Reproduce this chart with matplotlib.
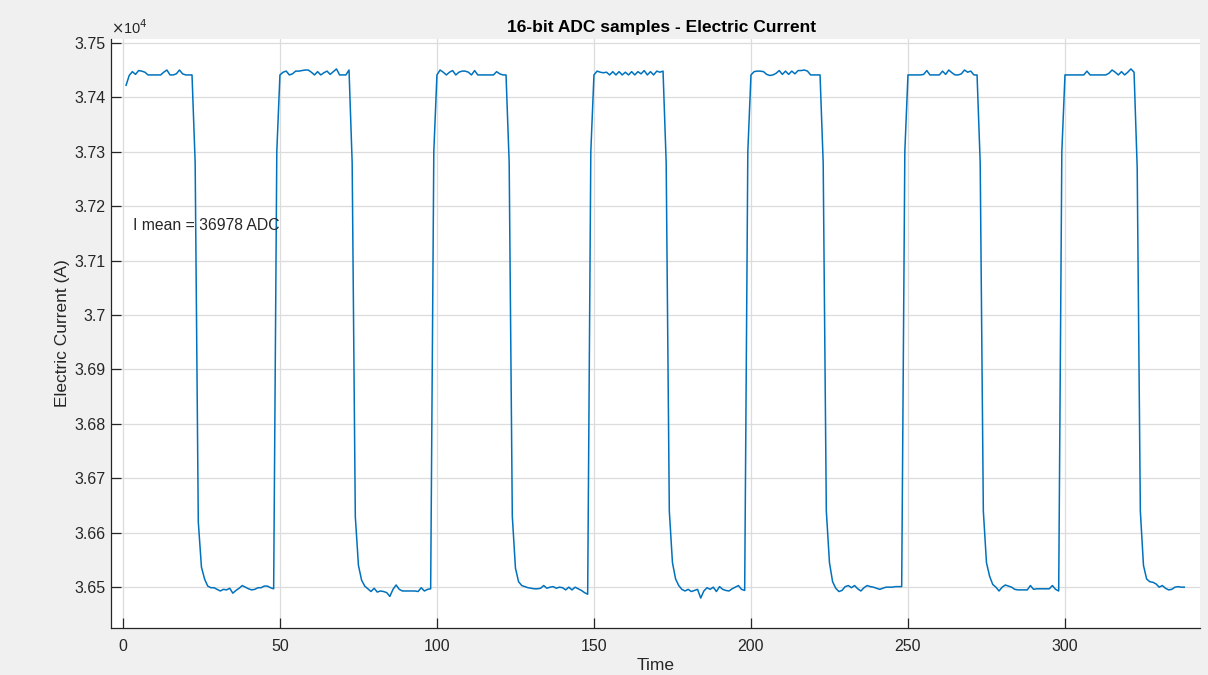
import matplotlib
matplotlib.use('Agg')
import matplotlib.pyplot as plt
import numpy as np

plt.rcParams['font.family'] = ['Liberation Sans', 'DejaVu Sans']

# 16-bit ADC samples, one row per edge / plateau
adc_samples = [
    # high 1..22
    37422, 37440, 37447, 37442, 37449, 37448, 37446, 37441, 37441, 37441, 37441,
    37441, 37446, 37450, 37441, 37441, 37443, 37450, 37443, 37441, 37441, 37441,
    # fall 23..26, low 27..48, rise 49
    37280, 36620, 36537, 36515,
    36502, 36499, 36499, 36496, 36493, 36496, 36495, 36498, 36489, 36494, 36498,
    36503, 36500, 36497, 36495, 36496, 36499, 36499, 36502, 36502, 36499, 36497,
    37300,
    # high 50..72
    37441, 37446, 37448, 37441, 37443, 37448, 37448, 37449, 37450, 37450, 37446,
    37441, 37447, 37441, 37445, 37448, 37442, 37447, 37452, 37441, 37441, 37441, 37450,
    # fall 73..76, low 77..98, rise 99
    37280, 36630, 36540, 36513,
    36502, 36497, 36492, 36498, 36491, 36493, 36492, 36490, 36483, 36496, 36504,
    36496, 36493, 36493, 36493, 36493, 36493, 36492, 36499, 36493, 36496, 36497,
    37300,
    # high 100..122
    37441, 37450, 37446, 37441, 37446, 37449, 37441, 37446, 37448, 37448, 37446,
    37441, 37449, 37441, 37441, 37441, 37441, 37441, 37441, 37447, 37443, 37441, 37441,
    # fall 123..126, low 127..148, rise 149
    37280, 36630, 36535, 36510,
    36503, 36501, 36499, 36498, 36497, 36497, 36498, 36503, 36498, 36500, 36501,
    36498, 36500, 36499, 36495, 36500, 36495, 36500, 36497, 36494, 36490, 36487,
    37300,
    # high 150..172
    37441, 37448, 37446, 37445, 37446, 37441, 37447, 37441, 37447, 37441, 37446,
    37441, 37447, 37441, 37447, 37443, 37449, 37441, 37447, 37441, 37448, 37446, 37448,
    # fall 173..176, low 177..198, rise 199
    37280, 36640, 36545, 36515,
    36503, 36496, 36493, 36496, 36492, 36494, 36496, 36480, 36493, 36499, 36496,
    36500, 36492, 36501, 36496, 36494, 36493, 36497, 36500, 36503, 36496, 36494,
    37300,
    # high 200..222
    37441, 37447, 37448, 37448, 37447, 37442, 37440, 37441, 37444, 37449, 37442,
    37448, 37442, 37448, 37443, 37449, 37449, 37450, 37448, 37441, 37441, 37441, 37441,
    # fall 223..226, low 227..248, rise 249
    37280, 36640, 36545, 36510,
    36498, 36492, 36494, 36501, 36503, 36499, 36503, 36497, 36493, 36499, 36503,
    36501, 36500, 36498, 36496, 36498, 36500, 36500, 36500, 36501, 36501, 36501,
    37300,
    # high 250..272
    37441, 37441, 37441, 37441, 37441, 37442, 37449, 37441, 37441, 37441, 37441,
    37448, 37442, 37450, 37445, 37441, 37441, 37443, 37450, 37446, 37448, 37441, 37441,
    # fall 273..276, low 277..298, rise 299
    37280, 36640, 36545, 36520,
    36505, 36500, 36493, 36500, 36504, 36502, 36500, 36496, 36495, 36495, 36495,
    36495, 36503, 36496, 36497, 36497, 36497, 36497, 36497, 36503, 36496, 36493,
    37300,
    # high 300..322
    37441, 37441, 37441, 37441, 37441, 37441, 37441, 37448, 37441, 37441, 37441,
    37441, 37441, 37441, 37444, 37450, 37446, 37441, 37447, 37441, 37446, 37452, 37446,
    # fall 323..326, low 327..338
    37270, 36640, 36540, 36515,
    36510, 36509, 36506, 36500, 36503, 36498, 36495, 36496, 36500, 36501, 36500, 36500,
]
sample_index = np.arange(1, len(adc_samples) + 1)

x_ticks = [0, 50, 100, 150, 200, 250, 300]
y_ticks = [36500, 36600, 36700, 36800, 36900, 37000, 37100, 37200, 37300, 37400, 37500]
mean_label = 'I mean = 36978 ADC'

fig = plt.figure(figsize=(12.08, 6.75), dpi=100, facecolor='#f0f0f0')
ax = fig.add_axes([111 / 1208, 1 - 628 / 675, (1200 - 111) / 1208, (628 - 39) / 675])
ax.set_facecolor('white')

ax.plot(sample_index, adc_samples, color='#0072BD', linewidth=1.1)

ax.set_xlim(-3.8, 343)
ax.set_ylim(36425, 37507)
ax.set_xticks(x_ticks)
ax.set_yticks(y_ticks)
ax.set_yticklabels(['%g' % (v / 1e4) for v in y_ticks])
ax.grid(True, color='#dcdcdc', linewidth=0.9)
ax.set_axisbelow(True)

for side in ['top', 'right']:
    ax.spines[side].set_visible(False)
for side in ['left', 'bottom']:
    ax.spines[side].set_color('#262626')
    ax.spines[side].set_linewidth(0.9)
ax.tick_params(direction='in', length=7, width=0.9, colors='#262626',
               labelsize=11.5, labelcolor='#262626')
ax.tick_params(axis='x', pad=8)
ax.tick_params(axis='y', pad=4)

ax.text(0.0, 1.004, r'$\times$10$^4$', transform=ax.transAxes, fontsize=10.5,
        color='#262626', ha='left', va='bottom')

ax.set_title('16-bit ADC samples - Electric Current', fontsize=12.5, fontweight='bold',
             color='black', pad=5, x=(662 - 111) / 1089)
ax.set_xlabel('Time', fontsize=12.5, color='#262626', labelpad=3)
ax.set_ylabel('Electric Current (A)', fontsize=12.5, color='#262626', labelpad=3)

ax.text(3.2, 37165, mean_label, fontsize=11.3, color='#262626', ha='left', va='center')

fig.savefig('out.png', dpi=100, facecolor=fig.get_facecolor())
